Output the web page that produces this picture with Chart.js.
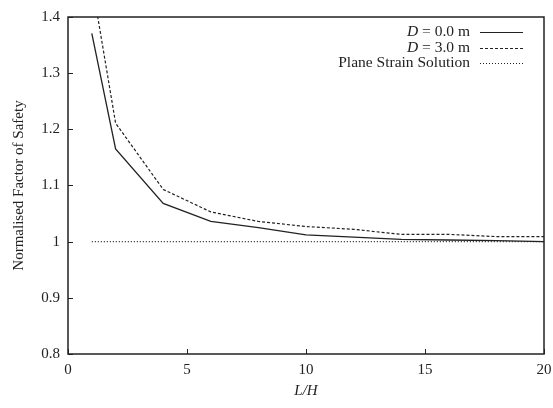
<!DOCTYPE html>
<html>
<head>
<meta charset="utf-8">
<script src="https://cdn.jsdelivr.net/npm/chart.js@4/dist/chart.umd.min.js"></script>
<style>
html,body{margin:0;padding:0;background:#fff;}
#wrap{width:553px;height:408px;position:relative;}
</style>
</head>
<body>
<div id="wrap"><canvas id="c"></canvas></div>
<script>
const lh = [1, 2, 4, 6, 8, 10, 12, 14, 16, 18, 20];
const fsD0 = [1.371, 1.165, 1.068, 1.036, 1.025, 1.012, 1.008, 1.004, 1.003, 1.002, 1.000];
const fsD3 = [1.463, 1.211, 1.093, 1.053, 1.036, 1.027, 1.022, 1.013, 1.013, 1.009, 1.009];
const planeX = [1, 20];
const planeY = [1.0, 1.0];
const xTicks = [0, 5, 10, 15, 20];
const yTicks = [0.8, 0.9, 1.0, 1.1, 1.2, 1.3, 1.4];
const legendItems = [
  {pre: 'D', post: ' = 0.0 m', dash: []},
  {pre: 'D', post: ' = 3.0 m', dash: [3, 2]},
  {pre: '', post: 'Plane Strain Solution', dash: [1, 2]}
];

const toPts = (xs, ys) => xs.map((x, i) => ({x: x, y: ys[i]}));
const FONT = "'Liberation Serif', 'Times New Roman', serif";
const INK = '#222';

const framePlugin = {
  id: 'frame',
  afterDraw(chart) {
    const ctx = chart.ctx, a = chart.chartArea;
    const xs = chart.scales.x, ys = chart.scales.y;
    ctx.save();
    ctx.strokeStyle = INK;
    ctx.lineWidth = 1.5;
    ctx.setLineDash([]);
    ctx.strokeRect(a.left, a.top, a.right - a.left, a.bottom - a.top);
    ctx.lineWidth = 1;
    xTicks.forEach(v => {
      const p = Math.round(xs.getPixelForValue(v)) + 0.5;
      ctx.beginPath(); ctx.moveTo(p, a.bottom); ctx.lineTo(p, a.bottom - 5); ctx.stroke();
    });
    yTicks.forEach(v => {
      const p = Math.round(ys.getPixelForValue(v)) + 0.5;
      ctx.beginPath(); ctx.moveTo(a.left, p); ctx.lineTo(a.left + 5, p); ctx.stroke();
    });
    // legend
    const textRight = 470, sx0 = 480, sx1 = 523;
    let y = 32;
    ctx.textBaseline = 'middle';
    legendItems.forEach(it => {
      ctx.font = '15.5px ' + FONT;
      const wPost = ctx.measureText(it.post).width;
      ctx.fillStyle = INK;
      ctx.textAlign = 'left';
      ctx.fillText(it.post, textRight - wPost, y);
      if (it.pre) {
        ctx.font = 'italic 15.5px ' + FONT;
        const wPre = ctx.measureText(it.pre).width;
        ctx.fillText(it.pre, textRight - wPost - wPre, y);
      }
      ctx.setLineDash(it.dash);
      ctx.lineWidth = 1.2;
      ctx.beginPath(); ctx.moveTo(sx0, Math.round(y) + 0.5); ctx.lineTo(sx1, Math.round(y) + 0.5); ctx.stroke();
      y += 15.5;
    });
    ctx.restore();
  }
};

new Chart(document.getElementById('c'), {
  type: 'line',
  data: {
    datasets: [
      {data: toPts(lh, fsD0), borderColor: INK, borderWidth: 1.3, pointRadius: 0, fill: false, tension: 0},
      {data: toPts(lh, fsD3), borderColor: INK, borderWidth: 1.2, borderDash: [3, 2], pointRadius: 0, fill: false, tension: 0},
      {data: toPts(planeX, planeY), borderColor: INK, borderWidth: 1.2, borderDash: [1, 2], pointRadius: 0, fill: false, tension: 0}
    ]
  },
  options: {
    responsive: true,
    maintainAspectRatio: false,
    animation: false,
    devicePixelRatio: 1,
    layout: {padding: {top: 17, right: 9, left: 0, bottom: 0}},
    plugins: {legend: {display: false}, tooltip: {enabled: false}},
    scales: {
      x: {
        type: 'linear', min: 0, max: 20,
        afterBuildTicks: s => { s.ticks = xTicks.map(v => ({value: v})); },
        afterFit: s => { s.height = 54; s.paddingLeft = 0; s.paddingRight = 0; },
        grid: {display: false, drawTicks: false},
        border: {display: false},
        ticks: {color: INK, font: {family: FONT, size: 15}, padding: 7, maxRotation: 0},
        title: {display: true, text: 'L/H', color: INK, font: {family: FONT, size: 15, style: 'italic'}, padding: {top: 0, bottom: 8}}
      },
      y: {
        type: 'linear', min: 0.8, max: 1.4,
        afterBuildTicks: s => { s.ticks = yTicks.map(v => ({value: v})); },
        afterFit: s => { s.width = 68; s.paddingTop = 0; s.paddingBottom = 0; },
        grid: {display: false, drawTicks: false},
        border: {display: false},
        ticks: {color: INK, font: {family: FONT, size: 15}, padding: 8,
          callback: v => (Math.abs(v - 1) < 1e-9 ? '1' : v.toFixed(1))},
        title: {display: true, text: 'Normalised Factor of Safety', color: INK, font: {family: FONT, size: 15}, padding: {top: 10, bottom: 0}}
      }
    }
  },
  plugins: [framePlugin]
});
</script>
</body>
</html>
